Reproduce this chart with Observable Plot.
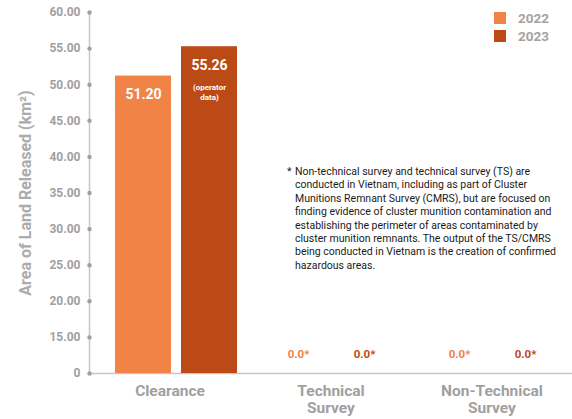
<!DOCTYPE html>
<html><head><meta charset="utf-8">
<script src="https://cdn.jsdelivr.net/npm/d3@7"></script>
<script src="https://cdn.jsdelivr.net/npm/@observablehq/plot@0.6"></script>
<style>
body{margin:0;background:#fff;font-family:Roboto,sans-serif;}
#wrap{position:relative;width:572px;height:419px;overflow:hidden;}
.legend{position:absolute;left:494px;top:9px;font:bold 13.5px Roboto,sans-serif;color:#a3a3a3;}
.legend .row{display:flex;align-items:center;height:18px;}
.legend .sw{width:12px;height:12px;margin-right:12px;}
.note{position:absolute;left:287px;top:165px;font-size:10.5px;line-height:13.4px;color:#1a1a1a;white-space:nowrap;}
.note .ast{position:absolute;left:0;top:0;}
.note .body{margin-left:8px;}
</style></head><body><div id="wrap"></div>
<script>
const categories = ["Clearance", "Technical Survey", "Non-Technical Survey"];
const categoryLabels = ["Clearance", "Technical\nSurvey", "Non-Technical\nSurvey"];
const years = ["2022", "2023"];
const colors = ["#F08345", "#BC4A16"];
const values2022 = [51.20, 0, 0];
const values2023 = [55.26, 0, 0];
const notes2023 = ["(operator\ndata)", "", ""];
const yTicks = [0, 15, 20, 25, 30, 35, 40, 45, 50, 55, 60];
const yTitle = "Area of Land Released (km²)";
const zeroLabel = "0.0*";
const footnoteLines = [
  "Non-technical survey and technical survey (TS) are",
  "conducted in Vietnam, including as part of Cluster",
  "Munitions Remnant Survey (CMRS), but are focused on",
  "finding evidence of cluster munition contamination and",
  "establishing the perimeter of areas contaminated by",
  "cluster munition remnants. The output of the TS/CMRS",
  "being conducted in Vietnam is the creation of confirmed",
  "hazardous areas."
];

const rows = categories.flatMap((c, i) => [
  {category: c, year: years[0], value: values2022[i], note: ""},
  {category: c, year: years[1], value: values2023[i], note: notes2023[i]}
]);

// broken axis: 0→15 takes one tick step, then steps of 5
const yBreak = yTicks[1], yStep = yTicks[2] - yTicks[1];
const yMap = v => v <= yBreak ? v / yBreak : 1 + (v - yBreak) / yStep;

const W = 572, H = 419, mL = 88, mT = 12, mB = 46;
const gray = "#a0a0a0";

const chart = Plot.plot({
  width: W, height: H,
  marginLeft: mL, marginRight: 0, marginTop: mT, marginBottom: mB,
  style: {fontFamily: "Roboto, sans-serif", background: "transparent"},
  fx: {domain: categories, padding: 0, axis: null, label: null},
  x: {domain: years, paddingInner: 0.149, paddingOuter: 0.278, align: 0.67, axis: null},
  y: {transform: yMap, domain: [yMap(yTicks[0]), yMap(yTicks[yTicks.length - 1])], axis: null},
  color: {domain: years, range: colors},
  marks: [
    Plot.ruleY([0], {stroke: "#c6c6c6", strokeWidth: 1.5}),
    Plot.frame({anchor: "left", stroke: "#c6c6c6", strokeWidth: 1.5, facetAnchor: "left"}),
    Plot.dot(yTicks, {y: d => d, frameAnchor: "left", fill: gray, r: 2.2, facetAnchor: "left"}),
    Plot.text(yTicks, {y: d => d, frameAnchor: "left", textAnchor: "end", dx: -9,
      text: d => d === 0 ? "0" : d.toFixed(2),
      fontSize: 12, fontWeight: "bold", fill: gray, facetAnchor: "left"}),
    Plot.text([yTitle], {text: d => d, frameAnchor: "left", textAnchor: "middle", rotate: -90, dx: -64,
      fontSize: 16, fontWeight: "bold", fill: "#acacac", facetAnchor: "left"}),
    Plot.barY(rows, {fx: "category", x: "year", y: "value", fill: "year"}),
    Plot.text(rows.filter(d => d.value > 0), {fx: "category", x: "year", y: "value",
      text: d => d.value.toFixed(2), dy: 18.5, fill: "white", fontSize: 14, fontWeight: "bold"}),
    Plot.text(rows.filter(d => d.note), {fx: "category", x: "year", y: "value",
      text: "note", dy: 35.5, lineAnchor: "top", lineHeight: 1.29, fill: "white", fontSize: 8, fontWeight: "bold"}),
    Plot.text(rows.filter(d => d.value === 0), {fx: "category", x: "year", y: "value",
      text: () => zeroLabel, dy: -19, dx: -6, fill: "year", fontSize: 11.5, fontWeight: "bold"}),
    Plot.axisFx({anchor: "bottom", tickSize: 0, tickPadding: 10, label: null,
      tickFormat: d => categoryLabels[categories.indexOf(d)], lineHeight: 1.12,
      fontSize: 15.5, fontWeight: "bold", fill: gray})
  ]
});

const wrap = document.getElementById("wrap");
wrap.appendChild(chart);

const legend = document.createElement("div");
legend.className = "legend";
years.forEach((y, i) => {
  const r = document.createElement("div");
  r.className = "row";
  const sw = document.createElement("span");
  sw.className = "sw";
  sw.style.background = colors[i];
  const t = document.createElement("span");
  t.textContent = y;
  r.appendChild(sw); r.appendChild(t);
  legend.appendChild(r);
});
wrap.appendChild(legend);

const note = document.createElement("div");
note.className = "note";
const ast = document.createElement("span");
ast.className = "ast"; ast.textContent = "*";
const body = document.createElement("div");
body.className = "body";
body.innerHTML = footnoteLines.map(l => l.replace(/&/g, "&amp;")).join("<br>");
note.appendChild(ast); note.appendChild(body);
wrap.appendChild(note);
</script>
</body></html>
